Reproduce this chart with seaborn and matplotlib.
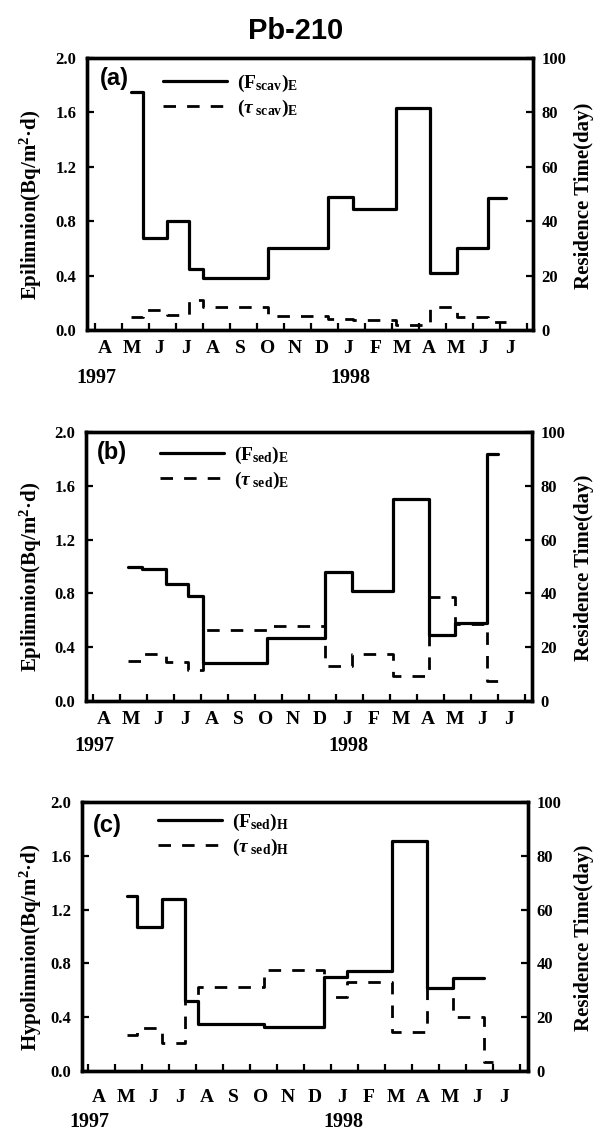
import matplotlib
matplotlib.use("Agg")
import matplotlib.pyplot as plt
import seaborn as sns
from matplotlib.lines import Line2D

# ---------------- data ----------------
month_labels = ["A", "M", "J", "J", "A", "S", "O", "N", "D", "J", "F", "M", "A", "M", "J", "J"]
year_labels = ["1997", "1998"]
year_x = [0.05, 9.45]
left_ticks = [0.0, 0.4, 0.8, 1.2, 1.6, 2.0]
right_ticks = [0, 20, 40, 60, 80, 100]

# x = months since 1 Apr 1997 (sampling interval edges)
edges_a = [1.33, 1.79, 2.68, 3.49, 4.01, 6.42, 8.64, 9.54, 11.15, 12.41, 13.42, 14.57, 15.22]
F_scav_E = [1.75, 0.68, 0.80, 0.45, 0.38, 0.60, 0.98, 0.89, 1.63, 0.42, 0.60, 0.97]
tau_scav_E = [4.8, 7.2, 5.4, 11.2, 8.4, 5.2, 4.0, 3.6, 2.0, 8.4, 4.8, 3.0]

edges_b = [1.27, 1.79, 2.69, 3.52, 4.05, 6.45, 8.58, 9.57, 11.11, 12.43, 13.40, 14.57, 15.00]
F_sed_E = [1.00, 0.98, 0.87, 0.78, 0.28, 0.47, 0.96, 0.82, 1.50, 0.49, 0.58, 1.84]
tau_sed_E = [15.0, 17.5, 14.5, 11.7, 26.5, 28.0, 13.0, 17.4, 9.3, 38.5, 28.5, 7.4]

edges_c_F = [1.42, 1.82, 2.74, 3.58, 4.07, 6.51, 8.74, 9.57, 11.26, 12.53, 13.50, 14.66]
F_sed_H = [1.30, 1.07, 1.28, 0.52, 0.35, 0.33, 0.70, 0.74, 1.71, 0.62, 0.69]
edges_c_T = [1.42, 1.82, 2.74, 3.58, 4.07, 6.51, 8.74, 9.57, 11.26, 12.53, 13.50, 14.66, 15.00]
tau_sed_H = [13.5, 16.0, 10.3, 26.0, 31.3, 37.5, 27.5, 33.0, 14.4, 31.0, 20.0, 3.4]

# ---------------- style ----------------
sns.set_theme(style="ticks")
plt.rcParams["font.family"] = ["Liberation Serif", "DejaVu Serif"]
plt.rcParams["font.weight"] = "bold"
plt.rcParams["mathtext.fontset"] = "custom"
plt.rcParams["mathtext.rm"] = "Liberation Serif:bold"
plt.rcParams["mathtext.bf"] = "Liberation Serif:bold"
plt.rcParams["mathtext.it"] = "Liberation Serif:italic:bold"
plt.rcParams["mathtext.default"] = "bf"
plt.rcParams["axes.edgecolor"] = "black"
plt.rcParams["xtick.color"] = "black"
plt.rcParams["ytick.color"] = "black"
plt.rcParams["text.color"] = "black"

W, H = 594, 1133
fig = plt.figure(figsize=(W / 100, H / 100), dpi=100)


def rect(l, r, t, b):
    return [l / W, 1 - b / H, (r - l) / W, (b - t) / H]


DASH = (0, (4.5, 4.0))


def draw_panel(box, xlim, xF, F, xT, T, letter, labF, labT, ylab,
               letter_xy, leg_xy, mpad, year_off, ylab_y, rlab_y):
    ax = fig.add_axes(rect(*box))
    ax2 = ax.twinx()
    sns.lineplot(x=xF, y=F + [F[-1]], ax=ax, color="black", lw=2.3,
                 drawstyle="steps-post", estimator=None, sort=False)
    sns.lineplot(x=xT, y=T + [T[-1]], ax=ax2, color="black", lw=2.0,
                 linestyle=DASH, drawstyle="steps-post", estimator=None, sort=False)
    ax.set_xlim(*xlim)
    ax.set_ylim(0, 2.0)
    ax2.set_ylim(0, 100)
    ax.set_xlabel("")
    ax.set_ylabel("")
    ax2.set_ylabel("")
    for a in (ax, ax2):
        for s in a.spines.values():
            s.set_linewidth(2.4)
            s.set_color("black")
    ax.set_yticks(left_ticks, labels=[f"{v:.1f}" for v in left_ticks])
    ax2.set_yticks(right_ticks, labels=[str(v) for v in right_ticks])
    ax.set_xticks(list(range(17)), labels=[""] * 17)
    ax.set_xticks([i + 0.38 for i in range(16)], labels=month_labels, minor=True)
    ax.tick_params(axis="x", which="major", direction="in", length=5, width=1.6,
                   bottom=True, top=False)
    ax.tick_params(axis="x", which="minor", length=0, pad=mpad, labelsize=14)
    ax.tick_params(axis="y", direction="in", length=5, width=1.6, left=True,
                   right=False, labelsize=12, pad=7.5)
    ax2.tick_params(axis="y", direction="in", length=5, width=1.6, right=True,
                    left=False, labelsize=12, pad=6)

    for yl, yx in zip(year_labels, year_x):
        ax.annotate(yl, xy=(yx, 0), xycoords=("data", "axes fraction"),
                    xytext=(0, -year_off), textcoords="offset points",
                    ha="center", va="center", fontsize=14.5, fontweight="bold",
                    annotation_clip=False)

    ax.text(letter_xy[0], letter_xy[1], letter, transform=ax.transAxes,
            ha="left", va="center", fontsize=17, fontweight="bold",
            family=["Liberation Sans", "DejaVu Sans"])

    handles = [Line2D([], [], color="black", lw=2.3),
               Line2D([], [], color="black", lw=2.0, linestyle=DASH)]
    ax2.legend(handles, [labF, labT], loc="center left",
               bbox_to_anchor=leg_xy, frameon=False, fontsize=14,
               handlelength=3.3, handletextpad=0.5, borderpad=0,
               borderaxespad=0, labelspacing=0.2)

    fig.text(31 / W, 1 - ylab_y / H, ylab, rotation=90, ha="center", va="center",
             fontsize=15, fontweight="bold")
    fig.text(584 / W, 1 - rlab_y / H, "Residence Time(day)", rotation=90,
             ha="center", va="center", fontsize=15, fontweight="bold")
    return ax, ax2


fig.text(296 / W, 1 - 31 / H, "Pb-210", ha="center", va="center", fontsize=21,
         fontweight="bold", family=["Liberation Sans", "DejaVu Sans"])

draw_panel((87, 533, 58, 330), (-0.296, 16.22), edges_a, F_scav_E, edges_a, tau_scav_E,
           "(a)", r"$(F_{scav})_{E}$", r"$(\mathit{\tau}_{\ scav})_{E}$",
           r"Epilimnion(Bq/m$^{2}$·d)", (0.029, 0.923), (0.170, 0.862),
           7.0, 34.5, 205, 196)

draw_panel((86, 532, 432, 701), (-0.27, 16.25), edges_b, F_sed_E, edges_b, tau_sed_E,
           "(b)", r"$(F_{sed})_{E}$", r"$(\mathit{\tau}_{\ sed})_{E}$",
           r"Epilimnion(Bq/m$^{2}$·d)", (0.024, 0.922), (0.166, 0.868),
           7.5, 32.5, 577, 568)

draw_panel((82, 528, 802, 1071), (-0.23, 16.28), edges_c_F, F_sed_H, edges_c_T, tau_sed_H,
           "(c)", r"$(F_{sed})_{H}$", r"$(\mathit{\tau}_{\ sed})_{H}$",
           r"Hypolimnion(Bq/m$^{2}$·d)", (0.025, 0.914), (0.171, 0.879),
           13.0, 36.5, 947, 938)

fig.savefig("out.png", dpi=100)
